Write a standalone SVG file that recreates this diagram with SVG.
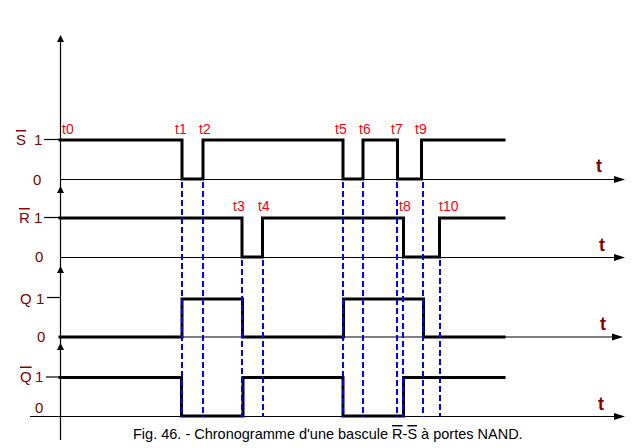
<svg xmlns="http://www.w3.org/2000/svg" width="637" height="448" viewBox="0 0 637 448">
  <style>
    .axis { stroke: #000; stroke-width: 1.2; fill: none; }
    .wave { stroke: #000; stroke-width: 3; fill: none; stroke-linejoin: miter; stroke-linecap: square; }
    .dash { stroke: #0000ff; stroke-width: 2; stroke-dasharray: 6 3; fill: none; }
    .arrow { fill: #000; stroke: none; }
    .lbl { font-family: "Liberation Sans", Arial, sans-serif; font-size: 15px; fill: #800000; }
    .tl { font-family: "Liberation Sans", Arial, sans-serif; font-size: 18px; font-weight: bold; fill: #800000; }
    .tm { font-family: "Liberation Sans", Arial, sans-serif; font-size: 14px; fill: #ff0000; }
    .cap { font-family: "Liberation Sans", Arial, sans-serif; font-size: 14.5px; fill: #000; }
    .ol { text-decoration: overline; }
  </style>
  <rect width="637" height="448" fill="#fff"/>

  <!-- vertical axis -->
  <g id="axis">
    <line class="axis" x1="60.5" y1="38" x2="60.5" y2="440"/>
    <polygon class="arrow" points="60.5,35 57,42 64,42"/>
    <polygon class="arrow" points="60.5,186 57,193 64,193"/>
    <polygon class="arrow" points="60.5,266 57,273 64,273"/>
    <polygon class="arrow" points="60.5,343 57,350 64,350"/>
  </g>

  <!-- signal S-bar -->
  <g id="signal-S">
    <line class="axis" x1="60" y1="179.5" x2="622" y2="179.5"/>
    <polygon class="arrow" points="625,179.5 614,176 614,183"/>
    <line class="axis" x1="44" y1="139.5" x2="60" y2="139.5"/>
    <text class="lbl" x="16" y="145"><tspan class="ol">S</tspan></text>
    <text class="lbl" x="34" y="145">1</text>
    <text class="lbl" x="33" y="185">0</text>
    <text class="tl" x="596" y="172">t</text>
    <path class="wave" d="M60,140 H182 V179 H203 V140 H343 V179 H363 V140 H397.5 V179 H421.5 V140 H504"/>
  </g>

  <!-- signal R-bar -->
  <g id="signal-R">
    <line class="axis" x1="60" y1="257.5" x2="622" y2="257.5"/>
    <polygon class="arrow" points="625,257.5 614,254 614,261"/>
    <line class="axis" x1="44" y1="217.5" x2="60" y2="217.5"/>
    <text class="lbl" x="19" y="223"><tspan class="ol">R</tspan></text>
    <text class="lbl" x="34" y="223">1</text>
    <text class="lbl" x="35" y="262">0</text>
    <text class="tl" x="599" y="251">t</text>
    <path class="wave" d="M60,218 H242 V257 H262.5 V218 H403.5 V257 H439.5 V218 H504"/>
  </g>

  <!-- signal Q -->
  <g id="signal-Q">
    <line class="axis" x1="60" y1="337" x2="620" y2="337"/>
    <polygon class="arrow" points="623,337 612,333.5 612,340.5"/>
    <line class="axis" x1="47" y1="297.5" x2="60" y2="297.5"/>
    <text class="lbl" x="20" y="303.5">Q</text>
    <text class="lbl" x="36" y="303.5">1</text>
    <text class="lbl" x="37" y="342">0</text>
    <text class="tl" x="600" y="330">t</text>
    <path class="wave" d="M60,337 H182 V299 H242.5 V337 H343.5 V299 H423.5 V337 H504"/>
  </g>

  <!-- signal Q-bar -->
  <g id="signal-Qbar">
    <line class="axis" x1="30" y1="416.5" x2="622" y2="416.5"/>
    <polygon class="arrow" points="625,416.5 614,413 614,420"/>
    <line class="axis" x1="46" y1="377" x2="60" y2="377"/>
    <text class="lbl" x="20" y="381.5"><tspan class="ol">Q</tspan></text>
    <text class="lbl" x="35" y="381.5">1</text>
    <text class="lbl" x="35" y="413">0</text>
    <text class="tl" x="598" y="410">t</text>
    <path class="wave" d="M60,377.5 H181.5 V416 H243 V377.5 H343 V416 H403.5 V377.5 H504"/>
  </g>

  <!-- time markers -->
  <g id="connectors">
    <line class="dash" x1="182" y1="182" x2="182" y2="417"/>
    <line class="dash" x1="203" y1="182" x2="203" y2="417"/>
    <line class="dash" x1="242" y1="260" x2="242" y2="417"/>
    <line class="dash" x1="263" y1="260" x2="263" y2="417"/>
    <line class="dash" x1="343" y1="182" x2="343" y2="417"/>
    <line class="dash" x1="363" y1="182" x2="363" y2="417"/>
    <line class="dash" x1="397" y1="182" x2="397" y2="417"/>
    <line class="dash" x1="403" y1="260" x2="403" y2="417"/>
    <line class="dash" x1="423" y1="182" x2="423" y2="417"/>
    <line class="dash" x1="440" y1="260" x2="440" y2="417"/>
  </g>

  <!-- time labels -->
  <g id="time-labels">
    <text class="tm" x="62" y="134">t0</text>
    <text class="tm" x="175" y="134">t1</text>
    <text class="tm" x="199" y="134">t2</text>
    <text class="tm" x="335" y="134">t5</text>
    <text class="tm" x="359" y="134">t6</text>
    <text class="tm" x="391" y="134">t7</text>
    <text class="tm" x="415" y="134">t9</text>
    <text class="tm" x="233" y="211">t3</text>
    <text class="tm" x="258" y="211">t4</text>
    <text class="tm" x="399" y="211">t8</text>
    <text class="tm" x="439" y="211">t10</text>
  </g>

  <text id="caption" class="cap" x="133" y="439">Fig. 46. - Chronogramme d'une bascule <tspan class="ol">R</tspan>-<tspan class="ol">S</tspan> à portes NAND.</text>
</svg>
